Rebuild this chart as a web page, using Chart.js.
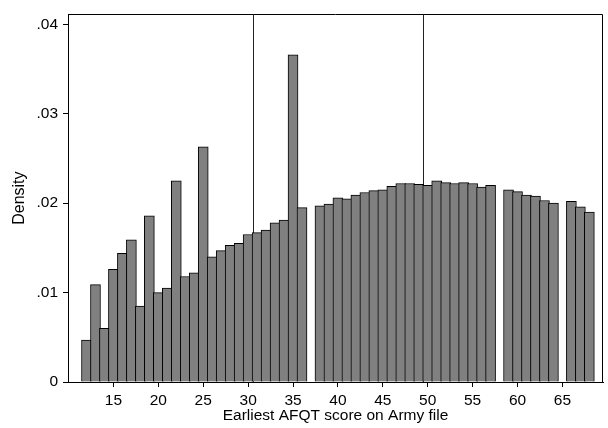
<!DOCTYPE html>
<html>
<head>
<meta charset="utf-8">
<script src="https://cdn.jsdelivr.net/npm/chart.js@4.4.1/dist/chart.umd.min.js"></script>
<style>
  html, body { margin: 0; padding: 0; background: #fff; }
  canvas { display: block; }
</style>
</head>
<body>
<canvas id="c" width="608" height="428"></canvas>
<script>
// ---- data ----
const scores = [12,13,14,15,16,17,18,19,20,21,22,23,24,25,26,27,28,29,30,31,32,33,34,35,36,
                38,39,40,41,42,43,44,45,46,47,48,49,50,51,52,53,54,55,56,57,
                59,60,61,62,63,64,
                66,67,68];
const density = [0.0047,0.0109,0.0060,0.0126,0.0144,0.0159,0.0085,0.0186,0.0100,0.0105,0.0225,0.0118,0.0122,0.0263,0.0140,0.0147,0.0153,0.0155,0.0165,0.0167,0.0170,0.0178,0.0181,0.0366,0.0195,
                 0.0197,0.0199,0.0206,0.0205,0.0209,0.0212,0.0214,0.0215,0.0219,0.0222,0.0222,0.0221,0.0220,0.0225,0.0223,0.0222,0.0223,0.0222,0.0218,0.0220,
                 0.0215,0.0213,0.0209,0.0208,0.0203,0.0200,
                 0.0202,0.0196,0.0190];
const xTickValues = [15,20,25,30,35,40,45,50,55,60,65];
const yTickValues = [0,0.01,0.02,0.03,0.04];
const refLines = [30.5, 49.5];
const xTitle = 'Earliest AFQT score on Army file';
const yTitle = 'Density';

const FONT = 'Liberation Sans, Arial, Helvetica, sans-serif';

const framePlugin = {
  id: 'frame',
  beforeDatasetsDraw(chart) {
    const { ctx, chartArea: a, scales } = chart;
    ctx.save();
    ctx.strokeStyle = '#000';
    ctx.lineWidth = 1;
    ctx.beginPath();
    ctx.moveTo(Math.round(a.left) + 0.5, Math.round(a.top) + 0.5);
    ctx.lineTo(Math.round(a.right) - 0.5, Math.round(a.top) + 0.5);
    ctx.lineTo(Math.round(a.right) - 0.5, Math.round(a.bottom));
    ctx.stroke();
    ctx.strokeStyle = '#222';
    refLines.forEach(v => {
      const x = Math.round(scales.x.getPixelForValue(v)) + 0.5;
      ctx.beginPath();
      ctx.moveTo(x, a.top);
      ctx.lineTo(x, a.bottom);
      ctx.stroke();
    });
    ctx.restore();
  }
};

new Chart(document.getElementById('c'), {
  type: 'bar',
  data: {
    datasets: [{
      data: scores.map((s, i) => ({ x: s, y: density[i] })),
      backgroundColor: '#808080',
      borderColor: '#000',
      borderWidth: 1,
      borderSkipped: 'start',
      barThickness: 10
    }]
  },
  options: {
    responsive: false,
    animation: false,
    devicePixelRatio: 1,
    layout: { padding: { top: 5, right: 5, left: 0, bottom: 0 } },
    plugins: { legend: { display: false }, tooltip: { enabled: false } },
    scales: {
      x: {
        type: 'linear',
        min: 9.94,
        max: 69.52,
        offset: false,
        grid: { display: true, offset: false, drawOnChartArea: false, drawTicks: true, tickLength: 5, color: '#000' },
        border: { display: true, color: '#000', width: 1 },
        ticks: { font: { family: FONT, size: 15.5 }, color: '#000', padding: 4, autoSkip: false, maxRotation: 0 },
        afterBuildTicks: s => { s.ticks = xTickValues.map(v => ({ value: v })); },
        afterFit: s => { s.height = 46; },
        title: { display: true, text: xTitle, color: '#000', font: { family: FONT, size: 15.5 }, padding: { top: 0, bottom: 3 } }
      },
      y: {
        min: 0,
        max: 0.04113,
        grid: { display: true, offset: false, drawOnChartArea: false, drawTicks: true, tickLength: 5, color: '#000' },
        border: { display: true, color: '#000', width: 1 },
        ticks: {
          font: { family: FONT, size: 15.5 }, color: '#000', padding: 5,
          callback: v => v === 0 ? '0' : v.toFixed(2).replace(/^0/, '')
        },
        afterBuildTicks: s => { s.ticks = yTickValues.map(v => ({ value: v })); },
        afterFit: s => { s.width = 68; },
        title: { display: true, text: yTitle, color: '#000', font: { family: FONT, size: 16 }, padding: { top: 10, bottom: 0 } }
      }
    }
  },
  plugins: [framePlugin]
});
</script>
</body>
</html>
